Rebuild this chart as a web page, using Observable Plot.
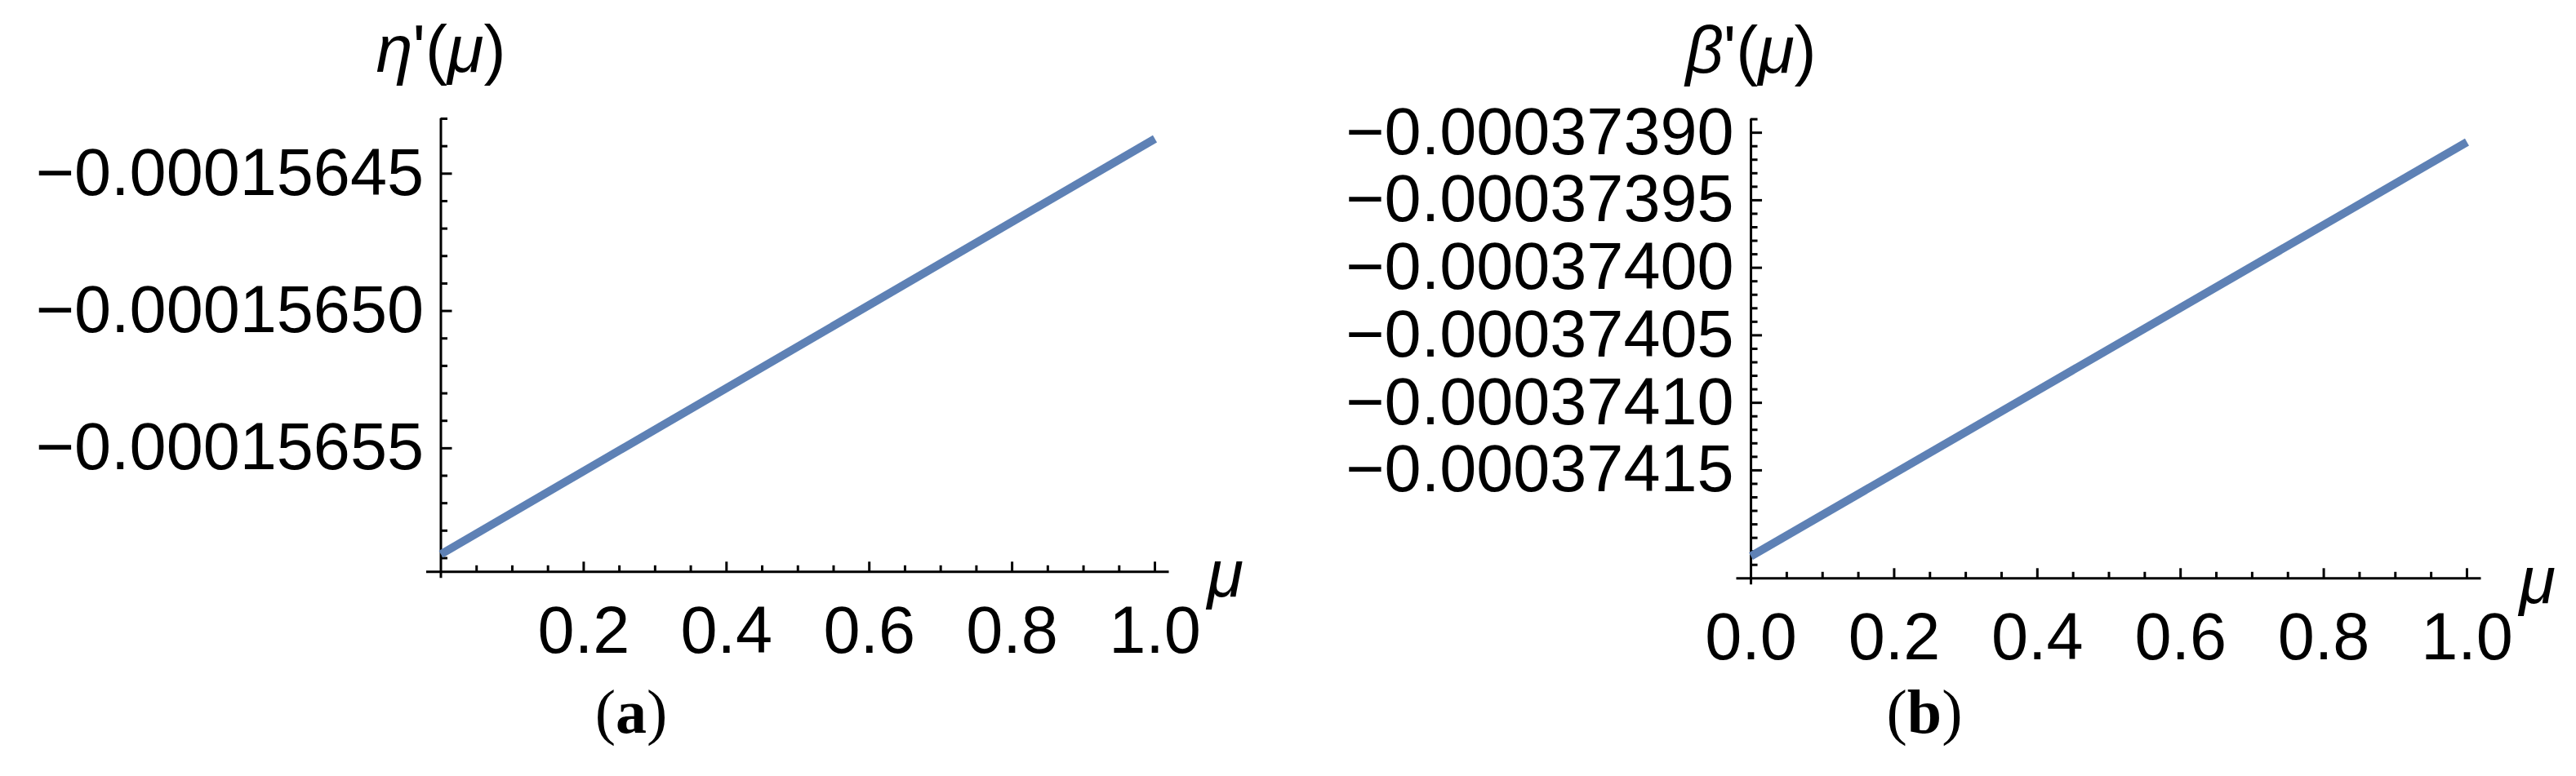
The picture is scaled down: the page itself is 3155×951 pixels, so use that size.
<!DOCTYPE html>
<html><head><meta charset="utf-8">
<script src="https://cdn.jsdelivr.net/npm/d3@7"></script>
<script src="https://cdn.jsdelivr.net/npm/@observablehq/plot@0.6"></script>
<style>
html,body{margin:0;padding:0;background:#fff;}
#wrap{position:relative;width:3155px;height:951px;overflow:hidden;background:#fff;}
.panel{position:absolute;top:0;}
.cap{position:absolute;top:834px;font-family:"Liberation Serif","Times New Roman",serif;font-size:76px;line-height:76px;transform:translateX(-50%);white-space:nowrap;color:#000;}
</style></head><body><div id="wrap"></div>
<script>
// ---- data ----
const muA = [0, 1];
const etaPrime = [-0.0001565886, -0.0001564373];
const muB = [0, 1];
const betaPrime = [-0.0003742136, -0.00037390695];

// ---- tick values ----
const etaMajorTicks = [-0.00015655, -0.0001565, -0.00015645];
const etaMinorTicks = [-0.00015659, -0.00015658, -0.00015657, -0.00015656, -0.00015654, -0.00015653,
  -0.00015652, -0.00015651, -0.00015649, -0.00015648, -0.00015647, -0.00015646, -0.00015644, -0.00015643];
const betaMajorTicks = [-0.00037415, -0.0003741, -0.00037405, -0.000374, -0.00037395, -0.0003739];
const betaMinorTicks = [-0.00037422, -0.00037421, -0.0003742, -0.00037419, -0.00037418, -0.00037417, -0.00037416,
  -0.00037414, -0.00037413, -0.00037412, -0.00037411, -0.00037409, -0.00037408, -0.00037407, -0.00037406,
  -0.00037404, -0.00037403, -0.00037402, -0.00037401, -0.00037399, -0.00037398, -0.00037397, -0.00037396,
  -0.00037394, -0.00037393, -0.00037392, -0.00037391, -0.00037389];
const muLabelsA = [0.2, 0.4, 0.6, 0.8, 1.0];
const muLabelsB = [0.0, 0.2, 0.4, 0.6, 0.8, 1.0];
const muMajorTicks = [0.2, 0.4, 0.6, 0.8, 1.0];
const muMinorTicks = [0.05, 0.1, 0.15, 0.25, 0.3, 0.35, 0.45, 0.5, 0.55, 0.65, 0.7, 0.75, 0.85, 0.9, 0.95];
const muDomain = [-0.02, 1.02];
const etaDomain = [-0.000156595, -0.00015643];
const betaDomain = [-0.00037423, -0.00037389];

const INK = "#000";
const LINE = "#5E81B5";
const FS = 81;

function panel(o) {
  const data = o.mu.map((m, i) => ({mu: m, v: o.val[i]}));
  const yBottom = o.yDomain[0], yTop = o.yDomain[1];
  const fmtY = d => "\u2212" + Math.abs(d).toFixed(8);
  const fmtX = d => d.toFixed(1);
  const svg = Plot.plot({
    width: o.width, height: 830,
    marginLeft: o.ml, marginRight: o.mr, marginTop: o.mt, marginBottom: o.mb,
    x: {domain: muDomain, axis: null},
    y: {domain: o.yDomain, axis: null},
    style: {fontFamily: '"Liberation Sans", Arial, Helvetica, sans-serif', background: "white", overflow: "visible", color: INK},
    marks: [
      Plot.ruleY([yBottom], {stroke: INK, strokeWidth: 3}),
      Plot.ruleX([0], {stroke: INK, strokeWidth: 3, insetBottom: -8}),
      Plot.ruleY(o.yMajor, {y: d => d, x1: () => 0, x2: () => 0, insetRight: -14, stroke: INK, strokeWidth: 3}),
      Plot.ruleY(o.yMinor, {y: d => d, x1: () => 0, x2: () => 0, insetRight: -8.5, stroke: INK, strokeWidth: 3}),
      Plot.ruleX(muMajorTicks, {x: d => d, y1: () => yBottom, y2: () => yBottom, insetTop: -12, stroke: INK, strokeWidth: 3}),
      Plot.ruleX(muMinorTicks, {x: d => d, y1: () => yBottom, y2: () => yBottom, insetTop: -7.5, stroke: INK, strokeWidth: 3}),
      Plot.text(o.yMajor, {x: () => 0, y: d => d, text: fmtY, textAnchor: "end", dx: -21, fontSize: FS, fill: INK}),
      Plot.text(o.xLabels, {x: d => d, y: () => yBottom, text: fmtX, lineAnchor: "top", dy: 42, fontSize: FS, fill: INK}),
      Plot.text([o.ylabel], {x: () => 0, y: () => yTop, text: d => d, dy: -83, fontSize: FS, fill: INK}),
      Plot.text(["\u03bc"], {x: () => 1, y: () => yBottom, text: d => d, dx: 64, dy: 4, textAnchor: "start", fontSize: FS, fontStyle: "italic", fill: INK}),
      Plot.line(data, {x: "mu", y: "v", stroke: LINE, strokeWidth: 10, strokeLinecap: "butt"})
    ]
  });
  // italic Greek letters in the y-axis label
  svg.querySelectorAll("text").forEach(t => {
    if (t.textContent === o.ylabel) {
      t.innerHTML = `<tspan font-style="italic">${o.greek}</tspan>'(<tspan font-style="italic">\u03bc</tspan>)`;
    }
  });
  return svg;
}

const wrap = document.getElementById("wrap");

const divA = document.createElement("div");
divA.className = "panel"; divA.style.left = "0px"; divA.style.width = "1577px";
divA.appendChild(panel({
  mu: muA, val: etaPrime, yDomain: etaDomain, yMajor: etaMajorTicks, yMinor: etaMinorTicks,
  xLabels: muLabelsA, width: 1577, ml: 522, mr: 145.5, mt: 145, mb: 129.7,
  ylabel: "\u03b7'(\u03bc)", greek: "\u03b7"
}));
wrap.appendChild(divA);

const divB = document.createElement("div");
divB.className = "panel"; divB.style.left = "1577px"; divB.style.width = "1578px";
divB.appendChild(panel({
  mu: muB, val: betaPrime, yDomain: betaDomain, yMajor: betaMajorTicks, yMinor: betaMinorTicks,
  xLabels: muLabelsB, width: 1578, ml: 549.5, mr: 116.5, mt: 145.6, mb: 121.7,
  ylabel: "\u03b2'(\u03bc)", greek: "\u03b2"
}));
wrap.appendChild(divB);

const capA = document.createElement("div");
capA.className = "cap"; capA.style.left = "773px";
capA.innerHTML = "(<b>a</b>)";
wrap.appendChild(capA);

const capB = document.createElement("div");
capB.className = "cap"; capB.style.left = "2357px";
capB.innerHTML = "(<b>b</b>)";
wrap.appendChild(capB);
</script>
</body></html>
